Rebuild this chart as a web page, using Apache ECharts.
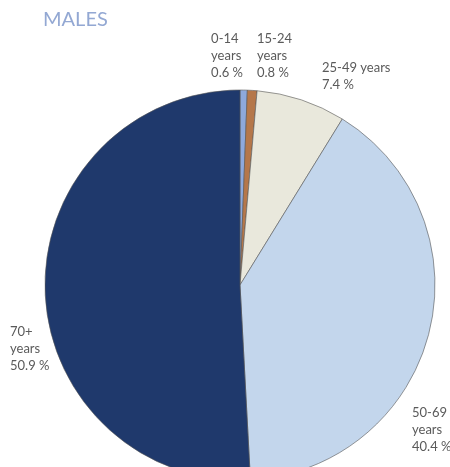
<!DOCTYPE html>
<html><head><meta charset="utf-8">
<script src="https://cdn.jsdelivr.net/npm/echarts@6/dist/echarts.min.js"></script>
<style>html,body{margin:0;padding:0;background:#fff}#c{width:450px;height:467px}</style>
</head><body><div id="c"></div>
<script>
var categories = ['0-14', '15-24', '25-49', '50-69', '70+'];
var values = [0.6, 0.8, 7.4, 40.4, 50.9];
var colors = ['#8ea9dc', '#b5774a', '#e9e8dc', '#c3d6ec', '#1f396c'];
var labelPos = [
  {x: 243, y: 30, align: 'right', oneLine: false},
  {x: 257, y: 30, align: 'left', oneLine: false},
  {x: 322, y: 59, align: 'left', oneLine: true},
  {x: 412, y: 404, align: 'left', oneLine: false},
  {x: 10, y: 323, align: 'left', oneLine: false}
];
var chart = echarts.init(document.getElementById('c'));
chart.setOption({
  animation: false,
  title: {text: 'MALES', left: 43, top: 10, padding: 0, textStyle: {color: '#93a8d3', fontSize: 20, fontWeight: 'normal', fontFamily: 'Lato'}},
  graphic: categories.map(function (c, i) {
    var l = labelPos[i];
    return {
      type: 'text', left: l.align === 'right' ? undefined : l.x,
      right: l.align === 'right' ? 450 - l.x : undefined,
      top: l.y,
      style: {
        text: c + (l.oneLine ? ' years' : '\nyears') + '\n' + values[i].toFixed(1) + ' %',
        fill: '#5a5a5a', font: '13px Lato', lineHeight: 17, align: l.align
      }
    };
  }),
  series: [{
    type: 'pie',
    center: [240, 285],
    radius: 195,
    startAngle: 90,
    clockwise: true,
    data: categories.map(function (c, i) {
      return {name: c, value: values[i], itemStyle: {color: colors[i]}};
    }),
    itemStyle: {borderColor: '#555', borderWidth: 0.6},
    label: {show: false},
    labelLine: {show: false}
  }]
});
</script></body></html>
